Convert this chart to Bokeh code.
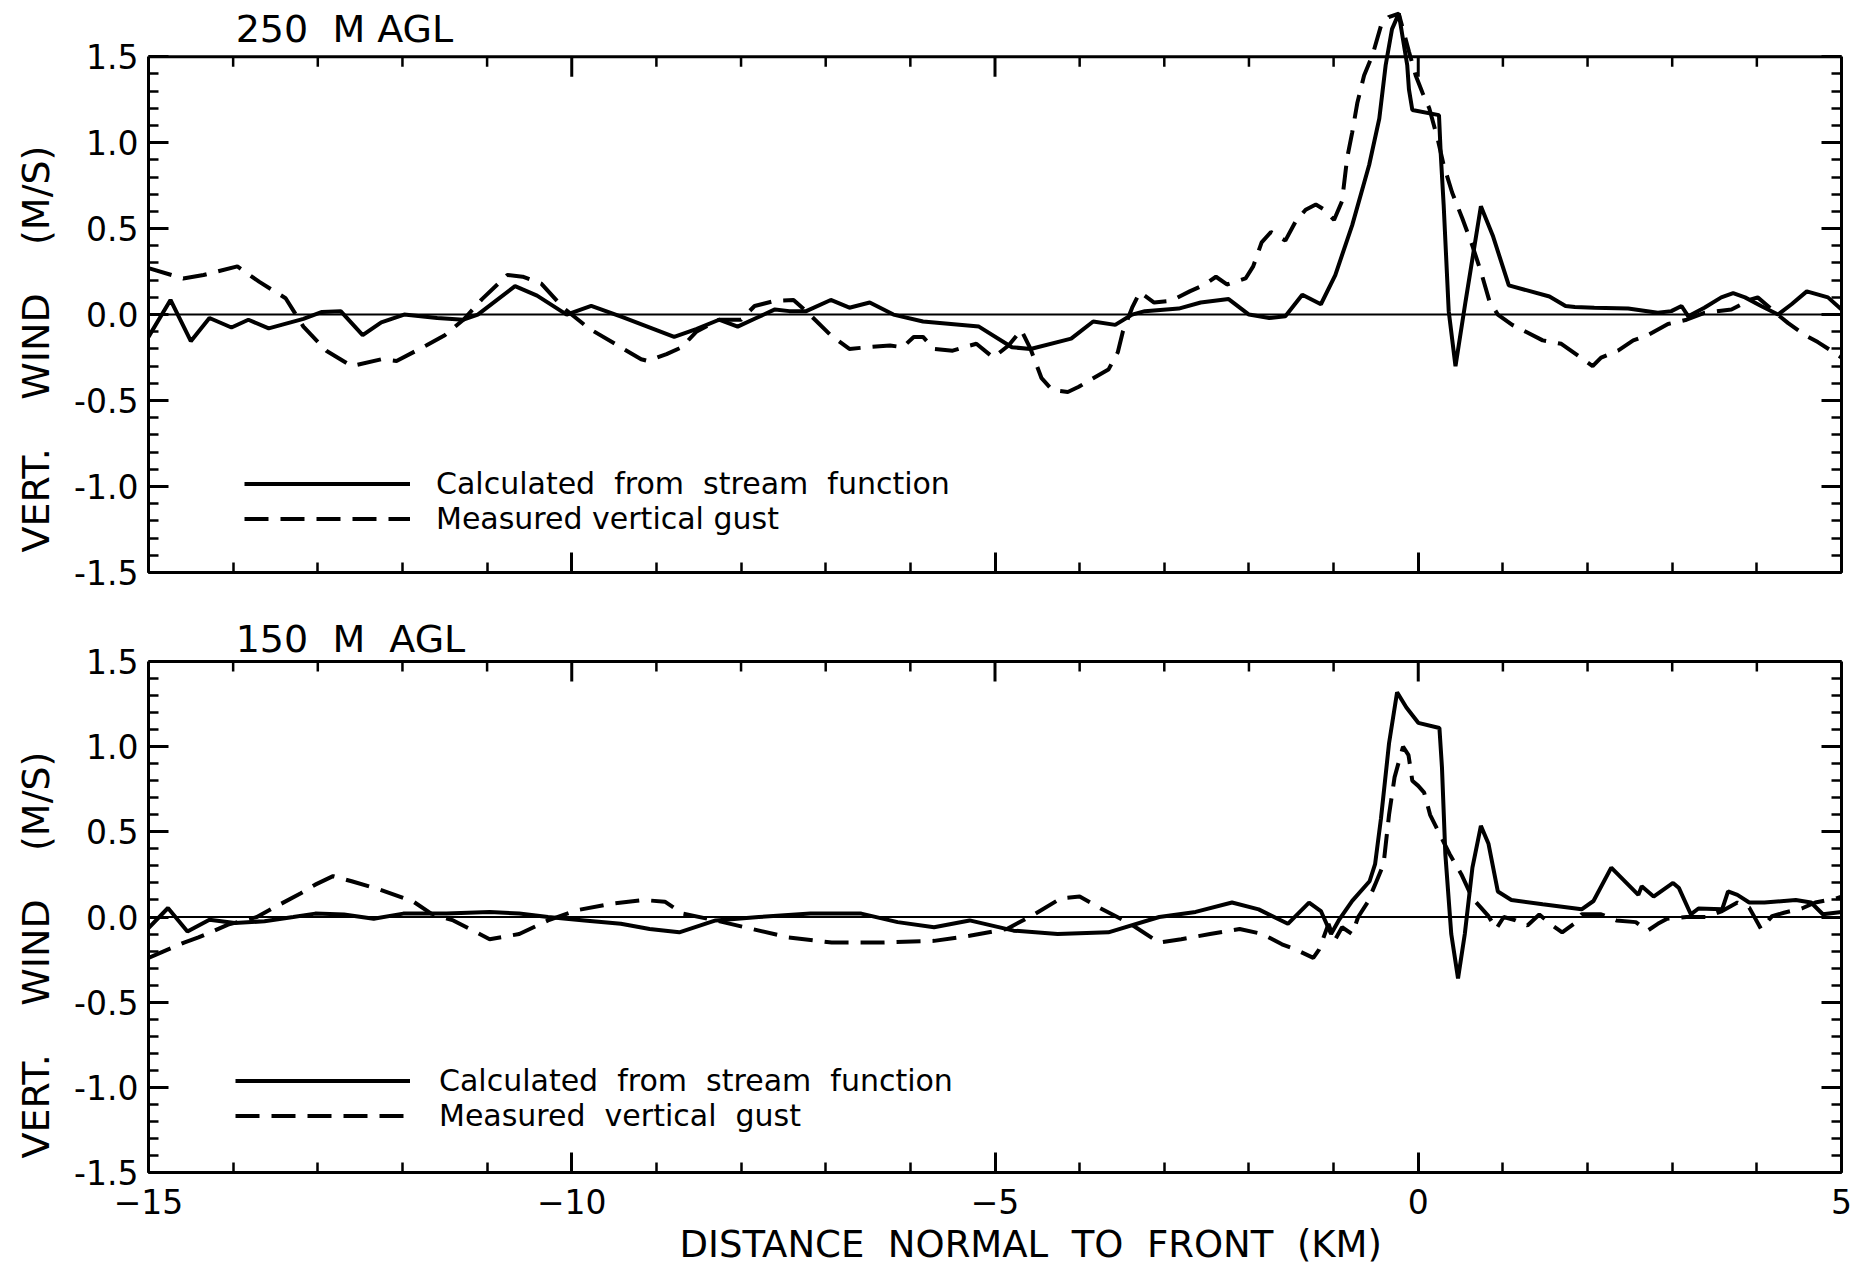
import math
from bokeh.plotting import figure
from bokeh.models import (Range1d, LinearAxis, SingleIntervalTicker, NumeralTickFormatter,
                          Span, Label, Legend, LegendItem, Title)
from bokeh.layouts import column
from bokeh.embed import file_html
from bokeh.resources import INLINE

FONT = "DejaVu Sans"
NB = "\u00a0"

# ---------------- data ----------------
top_calc_x = [-15.0, -14.74, -14.5, -14.28, -14.02, -13.82, -13.58, -13.17, -12.95, -12.73,
              -12.47, -12.25, -11.98, -11.59, -11.28, -11.11, -10.67, -10.41, -10.06, -9.77,
              -9.4, -8.79, -8.53, -8.26, -8.04, -7.82, -7.6, -7.43, -7.23, -6.94,
              -6.72, -6.48, -6.2, -5.85, -5.19, -4.8, -4.58, -4.1, -3.84, -3.58,
              -3.38, -3.23, -2.83, -2.57, -2.24, -2.0, -1.76, -1.57, -1.37, -1.15,
              -0.98, -0.78, -0.58, -0.46, -0.385, -0.31, -0.23, -0.13, -0.11, -0.07,
              0.245, 0.265, 0.3, 0.36, 0.44, 0.56, 0.74, 0.88, 1.07, 1.55,
              1.74, 1.85, 2.08, 2.48, 2.83, 2.99, 3.11, 3.19, 3.38, 3.58,
              3.72, 3.86, 4.05, 4.25, 4.41, 4.59, 4.84, 5.0]
top_calc_y = [-0.13, 0.085, -0.155, -0.02, -0.075, -0.03, -0.08, -0.025, 0.015, 0.02,
              -0.12, -0.045, 0.0, -0.02, -0.03, 0.0, 0.165, 0.11, 0.0, 0.05,
              -0.015, -0.13, -0.085, -0.03, -0.07, -0.02, 0.03, 0.02, 0.02, 0.085,
              0.04, 0.07, 0.0, -0.04, -0.07, -0.19, -0.2, -0.14, -0.04, -0.06,
              0.0, 0.02, 0.035, 0.07, 0.09, 0.0, -0.02, -0.01, 0.115, 0.06,
              0.23, 0.52, 0.87, 1.14, 1.45, 1.66, 1.75, 1.45, 1.31, 1.19,
              1.16, 0.94, 0.64, 0.02, -0.3, 0.08, 0.63, 0.46, 0.17, 0.105,
              0.05, 0.044, 0.04, 0.035, 0.01, 0.02, 0.05, -0.01, 0.04, 0.1,
              0.125, 0.1, 0.05, 0.0, 0.06, 0.135, 0.1, 0.03]

top_gust_x = [-15.0, -14.59, -14.35, -13.95, -13.69, -13.38, -13.17, -12.9, -12.6, -12.25,
              -12.07, -11.72, -11.5, -11.28, -11.06, -10.76, -10.58, -10.36, -10.1, -9.8,
              -9.49, -9.18, -9.1, -8.88, -8.7, -8.53, -8.26, -8.0, -7.84, -7.6,
              -7.38, -7.21, -6.94, -6.72, -6.51, -6.24, -6.09, -5.96, -5.85, -5.72,
              -5.5, -5.37, -5.22, -5.02, -4.84, -4.69, -4.58, -4.45, -4.32, -4.14,
              -4.01, -3.84, -3.66, -3.55, -3.49, -3.38, -3.29, -3.12, -2.92, -2.7,
              -2.52, -2.39, -2.26, -2.04, -1.95, -1.85, -1.74, -1.57, -1.45, -1.33,
              -1.21, -1.11, -0.995, -0.9, -0.84, -0.78, -0.72, -0.64, -0.54, -0.44,
              -0.35, -0.23, -0.11, -0.03, 0.05, 0.13, 0.23, 0.3, 0.4, 0.52,
              0.64, 0.74, 0.84, 0.94, 1.11, 1.47, 1.69, 1.89, 2.06, 2.16,
              2.36, 2.54, 2.71, 2.95, 3.17, 3.38, 3.7, 3.94, 4.01, 4.13,
              4.27, 4.37, 4.57, 4.72, 4.94, 5.0]
top_gust_y = [0.27, 0.21, 0.23, 0.28, 0.19, 0.095, -0.07, -0.21, -0.3, -0.26,
              -0.27, -0.18, -0.12, -0.03, 0.09, 0.23, 0.22, 0.18, 0.04, -0.08,
              -0.17, -0.26, -0.27, -0.23, -0.19, -0.1, -0.03, -0.03, 0.05, 0.08,
              0.085, 0.01, -0.12, -0.2, -0.19, -0.18, -0.19, -0.13, -0.13, -0.2,
              -0.21, -0.19, -0.17, -0.25, -0.18, -0.09, -0.2, -0.37, -0.44, -0.45,
              -0.42, -0.37, -0.32, -0.22, -0.1, 0.04, 0.13, 0.07, 0.08, 0.135,
              0.175, 0.22, 0.175, 0.21, 0.28, 0.42, 0.48, 0.43, 0.54, 0.61,
              0.64, 0.61, 0.55, 0.66, 0.91, 1.06, 1.23, 1.39, 1.51, 1.68,
              1.73, 1.75, 1.53, 1.39, 1.29, 1.2, 1.02, 0.87, 0.71, 0.56,
              0.4, 0.25, 0.08, 0.0, -0.06, -0.15, -0.17, -0.24, -0.3, -0.25,
              -0.21, -0.15, -0.12, -0.055, -0.03, 0.01, 0.03, 0.09, 0.1, 0.05,
              -0.01, -0.05, -0.12, -0.16, -0.23, -0.25]

bot_calc_x = [-15.0, -14.77, -14.54, -14.28, -13.98, -13.63, -13.29, -13.03, -12.69, -12.34,
              -11.99, -11.48, -10.97, -10.62, -10.28, -9.85, -9.42, -9.08, -8.73, -8.3,
              -7.79, -7.18, -6.58, -6.15, -5.72, -5.3, -4.78, -4.26, -3.66, -3.06,
              -2.63, -2.2, -1.885, -1.54, -1.29, -1.15, -1.03, -0.94, -0.78, -0.575,
              -0.51, -0.44, -0.345, -0.25, -0.14, 0.0, 0.25, 0.28, 0.32, 0.39,
              0.47, 0.55, 0.64, 0.74, 0.83, 0.94, 1.1, 1.47, 1.93, 2.07,
              2.28, 2.6, 2.64, 2.78, 3.01, 3.08, 3.22, 3.31, 3.59, 3.66,
              3.77, 3.91, 4.09, 4.46, 4.64, 4.78, 5.0]
bot_calc_y = [-0.065, 0.053, -0.085, -0.016, -0.035, -0.025, 0.0, 0.02, 0.015, -0.01,
              0.02, 0.02, 0.03, 0.02, 0.0, -0.02, -0.04, -0.07, -0.09, -0.02,
              0.0, 0.02, 0.02, -0.03, -0.06, -0.02, -0.08, -0.1, -0.09, 0.0,
              0.03, 0.085, 0.045, -0.04, 0.085, 0.035, -0.1, -0.02, 0.095, 0.21,
              0.31, 0.58, 1.02, 1.32, 1.23, 1.14, 1.11, 0.88, 0.37, -0.1,
              -0.36, -0.1, 0.29, 0.535, 0.43, 0.15, 0.1, 0.075, 0.045, 0.094,
              0.29, 0.13, 0.18, 0.12, 0.2, 0.17, 0.016, 0.05, 0.045, 0.15,
              0.13, 0.085, 0.085, 0.1, 0.085, 0.016, 0.03]

bot_gust_x = [-15.0, -14.58, -14.41, -14.06, -13.72, -13.5, -13.2, -13.03, -12.82, -12.6,
              -12.26, -11.87, -11.66, -11.4, -10.97, -10.62, -10.28, -9.94, -9.51, -9.16,
              -8.9, -8.69, -8.3, -7.87, -7.44, -6.93, -6.33, -5.72, -5.3, -4.86,
              -4.52, -4.22, -4.0, -3.75, -3.4, -3.06, -2.8, -2.46, -2.11, -1.84,
              -1.61, -1.45, -1.24, -1.17, -1.06, -0.99, -0.9, -0.78, -0.71, -0.6,
              -0.51, -0.41, -0.345, -0.28, -0.18, -0.115, -0.07, 0.0, 0.07, 0.14,
              0.23, 0.37, 0.51, 0.64, 0.74, 0.83, 0.92, 1.01, 1.15, 1.29,
              1.43, 1.56, 1.7, 1.84, 1.93, 2.16, 2.34, 2.57, 2.71, 2.83,
              2.94, 3.17, 3.4, 3.59, 3.77, 3.91, 4.05, 4.18, 4.32, 4.53,
              4.69, 4.94, 5.0]
bot_gust_y = [-0.24, -0.15, -0.12, -0.045, 0.0, 0.06, 0.14, 0.19, 0.24, 0.21,
              0.16, 0.09, 0.02, -0.02, -0.13, -0.1, -0.02, 0.04, 0.08, 0.1,
              0.09, 0.02, -0.02, -0.07, -0.12, -0.15, -0.15, -0.14, -0.11, -0.07,
              0.02, 0.11, 0.12, 0.05, -0.04, -0.15, -0.13, -0.1, -0.07, -0.1,
              -0.16, -0.19, -0.24, -0.19, -0.04, -0.14, -0.06, -0.1, 0.0, 0.085,
              0.19, 0.31, 0.6, 0.82, 1.0, 0.95, 0.8, 0.77, 0.73, 0.6,
              0.51, 0.37, 0.25, 0.11, 0.055, 0.005, -0.07, 0.0, -0.02, -0.05,
              0.015, -0.04, -0.09, -0.04, 0.016, 0.016, -0.02, -0.03, -0.08, -0.04,
              -0.01, 0.0, 0.0, 0.035, 0.085, 0.055, -0.07, 0.005, 0.025, 0.05,
              0.085, 0.11, 0.12]

panel_titles = ["250" + NB * 2 + "M" + NB + "AGL", "150" + NB * 2 + "M" + NB * 2 + "AGL"]
legend_calc = ["Calculated" + NB * 2 + "from" + NB * 2 + "stream" + NB * 2 + "function",
               "Calculated" + NB * 2 + "from" + NB * 2 + "stream" + NB * 2 + "function"]
legend_gust = ["Measured vertical gust",
               "Measured" + NB * 2 + "vertical" + NB * 2 + "gust"]
y_title = "VERT." + NB * 4 + "WIND" + NB * 4 + "(M/S)"
x_title = "DISTANCE" + NB * 2 + "NORMAL" + NB * 2 + "TO" + NB * 2 + "FRONT" + NB * 2 + "(KM)"

X_MIN, X_MAX = -15, 5
Y_MIN, Y_MAX = -1.5, 1.5
top_edge_minor = [v for v in range(-14, 5) if v % 5 != 0]
top_edge_major = [-10, -5, 0]

for a, b in [(top_calc_x, top_calc_y), (top_gust_x, top_gust_y),
             (bot_calc_x, bot_calc_y), (bot_gust_x, bot_gust_y)]:
    assert len(a) == len(b)

# ---------------- layout constants ----------------
FRAME_W = 1693
BORDER_L = 147
BORDER_R = 12
MAJ_T, MIN_T = 20, 10
TOP_Y_END = 1.78
TOP_FRAME_H = 564
BOT_Y_END = 1.782
BOT_FRAME_H = 559
LINE_W = 4
DASH = "24 12"


def y_axis(show_labels):
    ax = LinearAxis(ticker=SingleIntervalTicker(interval=0.5, num_minor_ticks=5),
                    formatter=NumeralTickFormatter(format="0.0"),
                    bounds=(Y_MIN, Y_MAX),
                    axis_line_width=3, axis_line_color="black",
                    major_tick_in=MAJ_T, major_tick_out=0, major_tick_line_width=3,
                    minor_tick_in=MIN_T, minor_tick_out=0, minor_tick_line_width=2.5,
                    major_label_standoff=10 if show_labels else 0,
                    major_label_text_font=FONT,
                    major_label_text_font_size="33px" if show_labels else "1px",
                    major_label_text_color="black")
    if not show_labels:
        ax.major_label_text_alpha = 0
    return ax


def x_axis(show_labels):
    ax = LinearAxis(ticker=SingleIntervalTicker(interval=5, num_minor_ticks=5),
                    axis_line_width=3, axis_line_color="black",
                    major_tick_in=MAJ_T, major_tick_out=0, major_tick_line_width=3,
                    minor_tick_in=MIN_T, minor_tick_out=0, minor_tick_line_width=2.5,
                    major_label_standoff=16 if show_labels else 0,
                    major_label_text_font=FONT,
                    major_label_text_font_size="33px" if show_labels else "1px",
                    major_label_text_color="black")
    if not show_labels:
        ax.major_label_text_alpha = 0
    return ax


def make_panel(y_end, frame_h, b_top, b_bottom, cx, cy, gx, gy, idx, title_y, ylab_offset,
               leg_loc, glyph_w, standoff, x_labels):
    p = figure(frame_width=FRAME_W, frame_height=frame_h,
               min_border_left=BORDER_L, min_border_right=BORDER_R,
               min_border_top=b_top, min_border_bottom=b_bottom,
               x_range=Range1d(X_MIN, X_MAX), y_range=Range1d(Y_MIN, y_end),
               x_axis_location=None, y_axis_location=None,
               toolbar_location=None, output_backend="svg")
    p.outline_line_color = None
    p.background_fill_color = "white"
    p.border_fill_color = "white"
    for g in p.grid:
        g.visible = False

    p.add_layout(y_axis(True), "left")
    p.add_layout(Title(text=y_title, align="left", offset=ylab_offset, vertical_align="middle",
                       standoff=25, text_font=FONT, text_font_size="38px",
                       text_font_style="normal", text_color="black"), "left")
    p.add_layout(y_axis(False), "right")
    p.add_layout(x_axis(x_labels), "below")

    # top edge of the box at 1.5 (range extends above so the peaks may rise over it)
    px_per_unit = frame_h / (y_end - Y_MIN)
    p.add_layout(Span(location=Y_MAX, dimension="width", line_color="black", line_width=3))
    p.segment(x0=top_edge_minor, y0=[Y_MAX] * len(top_edge_minor),
              x1=top_edge_minor, y1=[Y_MAX - MIN_T / px_per_unit] * len(top_edge_minor),
              line_color="black", line_width=2.5)
    p.segment(x0=top_edge_major, y0=[Y_MAX] * len(top_edge_major),
              x1=top_edge_major, y1=[Y_MAX - MAJ_T / px_per_unit] * len(top_edge_major),
              line_color="black", line_width=3)

    p.add_layout(Span(location=0, dimension="width", line_color="black", line_width=2))

    r_calc = p.line(cx, cy, line_color="black", line_width=LINE_W)
    r_gust = p.line(gx, gy, line_color="black", line_width=LINE_W, line_dash=DASH)

    leg = Legend(items=[LegendItem(label=legend_calc[idx], renderers=[r_calc]),
                        LegendItem(label=legend_gust[idx], renderers=[r_gust])],
                 location=leg_loc, orientation="vertical",
                 glyph_width=glyph_w, glyph_height=35, label_height=35,
                 label_standoff=standoff, spacing=0, padding=0, margin=0,
                 border_line_color=None, background_fill_alpha=0,
                 label_text_font=FONT, label_text_font_size="30px",
                 label_text_color="black")
    p.add_layout(leg)

    p.add_layout(Label(x=-13.97, y=title_y, text=panel_titles[idx], text_font=FONT,
                       text_font_size="38px", text_align="left",
                       text_baseline="alphabetic", text_color="black"))
    return p


# ---- top panel ----
p1 = make_panel(TOP_Y_END, TOP_FRAME_H, 8, 36, top_calc_x, top_calc_y, top_gust_x, top_gust_y,
                0, 1.658, 20, (96, 36), 166, 26, False)

# ---- bottom panel ----
p2 = make_panel(BOT_Y_END, BOT_FRAME_H, 5, 99, bot_calc_x, bot_calc_y, bot_gust_x, bot_gust_y,
                1, 1.635, 14, (87, 39), 175, 29, True)
p2.add_layout(Title(text=x_title, align="left", offset=531, vertical_align="top", standoff=12,
                    text_font=FONT, text_font_size="37px", text_font_style="normal",
                    text_color="black"), "below")

layout = column(p1, p2, spacing=0)
open("out.html", "w").write(file_html(layout, INLINE))
